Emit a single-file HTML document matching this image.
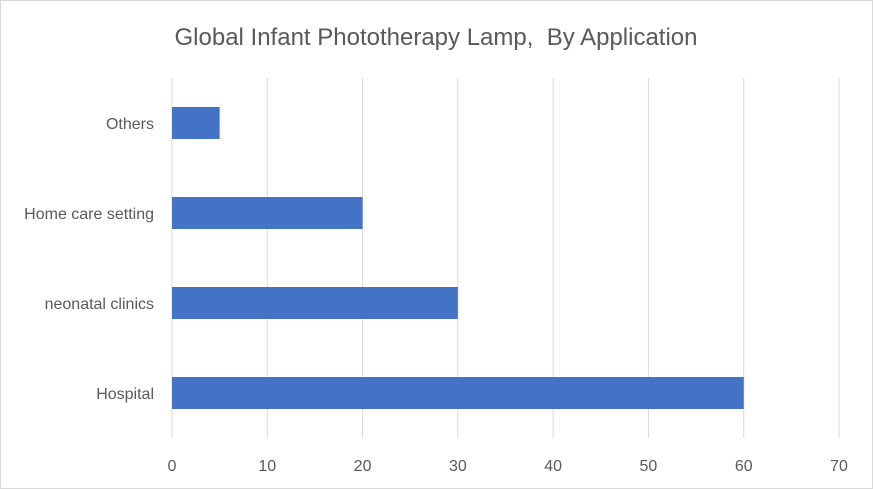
<!DOCTYPE html>
<html><head><meta charset="utf-8"><style>
body{margin:0;background:#fff}
svg{display:block;font-family:"Liberation Sans",Arial,sans-serif}
</style></head><body>
<svg id="chart" width="873" height="489">
<rect x="0.5" y="0.5" width="872" height="488" fill="#fff" stroke="#d9d9d9"/>
<text x="436" y="45" text-anchor="middle" font-size="24" fill="#595959" style="white-space:pre">Global Infant Phototherapy Lamp,  By Application</text>
<g id="grid"></g><g id="bars"></g><g id="ylabels"></g><g id="xlabels"></g>
</svg>
<script>
const categories=["Others","Home care setting","neonatal clinics","Hospital"];
const values=[5,20,30,60];
const ticks=[0,10,20,30,40,50,60,70];
const x0=172,x1=839,plotTop=78,plotBottom=438,xmax=70;
const ns="http://www.w3.org/2000/svg";
const xs=v=>x0+(x1-x0)*v/xmax;
const band=(plotBottom-plotTop)/categories.length;
function mk(t,a,p){const e=document.createElementNS(ns,t);for(const k in a)e.setAttribute(k,a[k]);p.appendChild(e);return e;}
const g=document.getElementById('grid'),b=document.getElementById('bars'),yl=document.getElementById('ylabels'),xl=document.getElementById('xlabels');
ticks.forEach(t=>{
 const l=mk('line',{x1:xs(t),x2:xs(t),y1:plotTop,y2:plotBottom,stroke:'#d9d9d9','stroke-width':1},g);
 
 
 const tx=mk('text',{x:xs(t),y:471,'text-anchor':'middle','font-size':16,fill:'#595959'},xl);
 tx.textContent=t;
 
 
});
categories.forEach((c,i)=>{
 const cy=plotTop+band*(i+0.5);
 const r=mk('rect',{x:x0,y:cy-16,width:xs(values[i])-x0,height:32,fill:'#4472c4'},b);
 
 
 const tx=mk('text',{x:154,y:cy+6,'text-anchor':'end','font-size':16,fill:'#595959'},yl);
 tx.textContent=c;
 
 
});
</script>
</body></html>
